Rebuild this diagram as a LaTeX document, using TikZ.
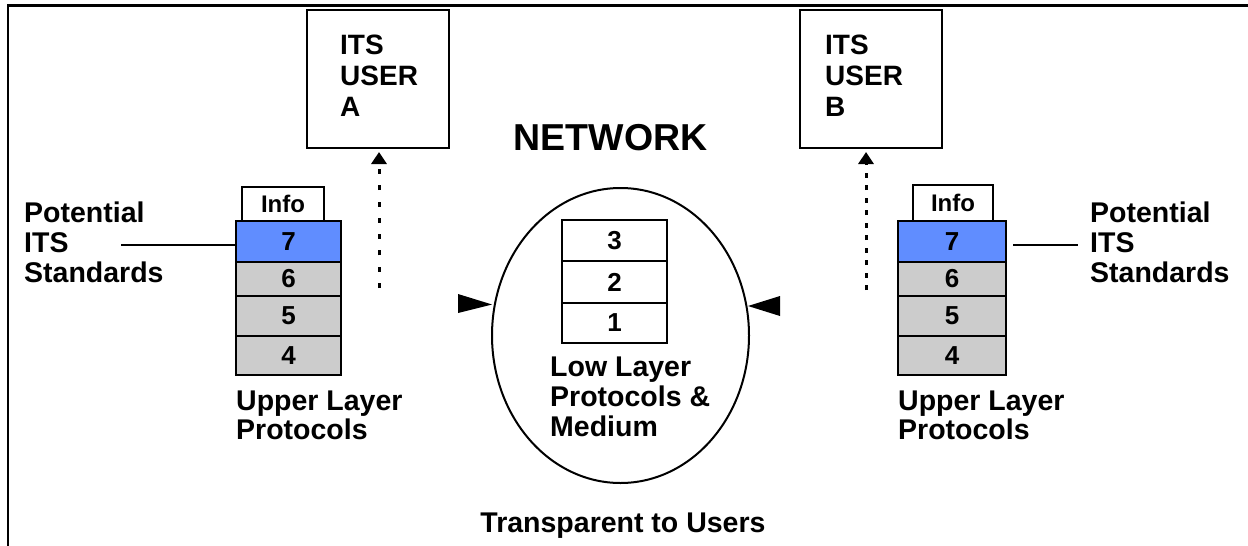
\documentclass[tikz,border=0pt]{standalone}
\usepackage{fontspec}
\setmainfont{Liberation Sans}
\usetikzlibrary{arrows.meta,shapes.geometric}
\definecolor{layblue}{RGB}{96,141,255}
\definecolor{laygray}{RGB}{204,204,204}
\begin{document}
\begin{tikzpicture}[x=1pt,y=-1pt,
  lbl/.style={font=\bfseries\fontsize{28.5}{30}\selectfont, align=left, inner sep=0, anchor=north west},
  userbox/.style={draw, line width=2.5, minimum width=142, minimum height=138, inner sep=0},
  layer/.style={draw, line width=2.5, fill=laygray, inner sep=0, font=\bfseries\fontsize{26}{26}\selectfont},
  infobox/.style={draw, line width=2, fill=white, inner sep=0, font=\bfseries\fontsize{24}{24}\selectfont},
  lowlayer/.style={draw, line width=2, fill=white, inner sep=0, minimum width=105, font=\bfseries\fontsize{26}{26}\selectfont},
  dotarrow/.style={line width=3, -{Triangle[width=15,length=12]}},
  lead/.style={line width=2},
  tri/.style={fill=black}
]
\useasboundingbox (0,0) rectangle (1248,546);
% frame
\draw[line width=2.5] (8,546) -- (8,5.5) -- (1248,5.5);

% users
\node[userbox] (userA) at (378,79) {};
\node[lbl, font=\bfseries\fontsize{28}{31}\selectfont] (userAt) at (340,35) {ITS\\USER\\A};
\node[userbox] (userB) at (871,79) {};
\node[lbl, font=\bfseries\fontsize{28}{31}\selectfont] (userBt) at (825,35) {ITS\\USER\\B};

% network title
\node[font=\bfseries\fontsize{37.5}{37.5}\selectfont, inner sep=0, anchor=base] (net) at (610.5,150) {NETWORK};

% dotted arrows
\coordinate (aS) at (379,288);
\coordinate (aE) at (379,152);
\draw[dotarrow, dash pattern=on 5 off 11.3] (aS) -- (aE);
\coordinate (bS) at (866,290);
\coordinate (bE) at (866,152);
\draw[dotarrow, dash pattern=on 5 off 7.5] (bS) -- (bE);

% left stack
\node[infobox, minimum width=82, minimum height=34] (infoA) at (283,204) {Info};
\node[layer, fill=layblue, minimum width=105, minimum height=41] (a7) at (288.5,241.5) {7};
\node[layer, minimum width=105, minimum height=34] (a6) at (288.5,279) {6};
\node[layer, minimum width=105, minimum height=40] (a5) at (288.5,316) {5};
\node[layer, minimum width=105, minimum height=39] (a4) at (288.5,355.5) {4};

% right stack
\node[infobox, minimum width=80, minimum height=36] (infoB) at (953,203) {Info};
\node[layer, fill=layblue, minimum width=108, minimum height=41] (b7) at (952,241.5) {7};
\node[layer, minimum width=108, minimum height=34] (b6) at (952,279) {6};
\node[layer, minimum width=108, minimum height=40] (b5) at (952,316) {5};
\node[layer, minimum width=108, minimum height=39] (b4) at (952,355.5) {4};

% standards labels
\node[lbl] (stdA) at (24,202) {Potential\\ITS\\Standards};
\coordinate (la) at (121,245);
\draw[lead] (la) -- (la -| a7.west);
\node[lbl] (stdB) at (1090,202) {Potential\\ITS\\Standards};
\coordinate (lb1) at (1013,245);
\coordinate (lb2) at (1078,245);
\draw[lead] (lb1) -- (lb2);

% upper layer labels
\node[lbl, font=\bfseries\fontsize{28.5}{28.5}\selectfont] (ulA) at (236,391) {Upper Layer\\Protocols};
\node[lbl, font=\bfseries\fontsize{28.5}{28.5}\selectfont] (ulB) at (898,391) {Upper Layer\\Protocols};

% network ellipse
\node[ellipse, draw, line width=2, minimum width=257, minimum height=295, inner sep=0] (ell) at (620.5,335.5) {};
\node[lowlayer, minimum height=41] (n3) at (614.5,240.5) {3};
\node[lowlayer, minimum height=42] (n2) at (614.5,282) {2};
\node[lowlayer, minimum height=40] (n1) at (614.5,323) {1};
\node[lbl] (low) at (550,357) {Low Layer\\Protocols \&\\Medium};

% triangles
\fill[tri] (458,294) -- (492,304.5) -- (458,313) -- cycle;
\fill[tri] (780,296) -- (748,306) -- (780,316) -- cycle;

% bottom label
\node[font=\bfseries\fontsize{28.5}{28.5}\selectfont, inner sep=0, anchor=base] (transp) at (623,532) {Transparent to Users};
\end{tikzpicture}
\end{document}
